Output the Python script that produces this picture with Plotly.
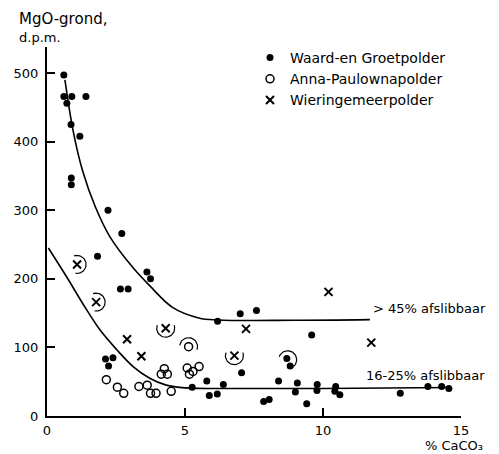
import numpy as np
import plotly.graph_objects as go

# ---- data ----
waard_x = [0.61, 0.61, 0.90, 1.41, 0.72, 0.87, 1.19, 0.88, 0.88, 2.21, 2.71, 1.83, 3.62, 3.75,
           2.66, 2.94, 2.12, 2.39, 2.23, 6.18, 7.00, 7.59, 7.05, 5.26, 5.79, 5.88, 6.17, 6.39,
           9.59, 8.69, 8.81, 8.39, 9.07, 9.00, 9.79, 9.78, 10.46, 10.43, 10.61, 7.85, 8.05,
           9.41, 12.80, 13.80, 14.30, 14.56]
waard_y = [497, 466, 466, 466, 456, 425, 408, 347, 337, 300, 266, 233, 210, 200,
           185, 185, 83, 85, 73, 138, 149, 154, 63, 42, 51, 30, 32, 46,
           118, 84, 73, 51, 48, 35, 46, 37, 43, 36, 31, 21, 24,
           18, 33, 43, 43, 40]

anna_x = [2.15, 2.55, 2.78, 3.33, 3.63, 3.75, 3.95, 4.50, 4.14, 4.36, 4.25, 5.08, 5.16, 5.29, 5.51, 5.13]
anna_y = [53, 42, 33, 43, 45, 33, 33, 36, 61, 61, 69, 70, 61, 65, 72, 101]

wier_x = [1.09, 1.78, 2.90, 3.42, 4.30, 7.21, 6.79, 10.20, 11.75]
wier_y = [221, 166, 112, 87, 128, 127, 88, 181, 107]

upper_x = [0.65, 0.95, 1.30, 1.75, 2.27, 3.12, 3.72, 4.56, 5.50, 6.20, 9.00, 11.70]
upper_y = [490, 415, 356, 305, 262, 216, 190, 158, 143, 140, 139.5, 140.5]

lower_x = [0.05, 0.71, 1.31, 1.91, 2.52, 3.12, 3.72, 4.32, 5.00, 7.00, 10.00, 14.60]
lower_y = [245, 203, 163, 126, 97, 72, 55, 45, 41, 40, 40, 41.5]

# bracketed points (x, y, arc start deg, arc end deg)
bracket_x = [1.09, 1.78, 4.30, 5.13, 6.79, 8.72]
bracket_y = [221, 166, 128, 101, 88, 82]
bracket_a0 = [-100, -100, 160, -20, 160, -60]
bracket_a1 = [110, 110, 380, 170, 380, 160]

x_ticks = [0, 5, 10, 15]
y_ticks = [0, 100, 200, 300, 400, 500]

# ---- layout geometry ----
W, H = 499, 454
ML, MR, MT, MB = 47, 38, 47, 38
XMAX, YMAX = 15, 538
pw, ph = W - ML - MR, H - MT - MB
ppx, ppy = pw / XMAX, ph / YMAX

FONT = "DejaVu Sans"
fig = go.Figure()

for cx, cy in ((upper_x, upper_y), (lower_x, lower_y)):
    fig.add_trace(go.Scatter(x=cx, y=cy, mode="lines",
                             line=dict(color="black", width=1.6, shape="spline", smoothing=1.0),
                             showlegend=False, hoverinfo="skip"))

# arcs around bracketed points (radius in pixels)
r = 9
for bx, by, a0, a1 in zip(bracket_x, bracket_y, bracket_a0, bracket_a1):
    t = np.radians(np.linspace(a0, a1, 30))
    fig.add_trace(go.Scatter(x=bx + r * np.cos(t) / ppx, y=by + r * np.sin(t) / ppy, mode="lines",
                             line=dict(color="black", width=1.2), showlegend=False, hoverinfo="skip"))

fig.add_trace(go.Scatter(x=waard_x, y=waard_y, mode="markers", name="Waard-en Groetpolder",
                         marker=dict(symbol="circle", size=7, color="black")))
fig.add_trace(go.Scatter(x=anna_x, y=anna_y, mode="markers", name="Anna-Paulownapolder",
                         marker=dict(symbol="circle-open", size=8, color="black", line=dict(width=1.5))))
fig.add_trace(go.Scatter(x=wier_x, y=wier_y, mode="markers", name="Wieringemeerpolder",
                         marker=dict(symbol="x-thin-open", size=8, color="black", line=dict(width=2, color="black"))))

def px_x(p):
    return (p - ML) / pw

def px_y(p):
    return (H - MB - p) / ph

ann = [
    dict(text="MgO-grond,", x=px_x(17), y=px_y(19), xanchor="left", size=15),
    dict(text="d.p.m.", x=px_x(17), y=px_y(37), xanchor="left", size=13),
    dict(text="> 45% afslibbaar", x=px_x(371), y=px_y(308), xanchor="left", size=13),
    dict(text="16-25% afslibbaar", x=px_x(364), y=px_y(375), xanchor="left", size=13),
    dict(text="% CaCO₃", x=px_x(485), y=px_y(445), xanchor="right", size=13),
]
annotations = [dict(text=a["text"], x=a["x"], y=a["y"], xref="paper", yref="paper", xanchor=a["xanchor"],
                    yanchor="middle", showarrow=False, font=dict(family=FONT, size=a["size"], color="black"))
               for a in ann]

fig.update_layout(
    width=W, height=H, margin=dict(l=ML, r=MR, t=MT, b=MB),
    paper_bgcolor="white", plot_bgcolor="white",
    font=dict(family=FONT, size=13, color="black"),
    annotations=annotations,
    legend=dict(x=px_x(250), y=px_y(42), xanchor="left", yanchor="top", bgcolor="rgba(0,0,0,0)",
                font=dict(family=FONT, size=14), itemwidth=30, tracegroupgap=0),
    xaxis=dict(range=[0, XMAX], tickvals=x_ticks, ticks="inside", ticklen=8, tickwidth=1.5, tickcolor="black",
               showline=True, linecolor="black", linewidth=1.5, showgrid=False, zeroline=False,
               ticklabelstandoff=2, tickfont=dict(size=13)),
    yaxis=dict(range=[0, YMAX], tickvals=y_ticks, ticks="inside", ticklen=8, tickwidth=1.5, tickcolor="black",
               showline=True, linecolor="black", linewidth=2, showgrid=False, zeroline=False,
               ticklabelstandoff=4, tickfont=dict(size=13)),
)

fig.write_html("out.html")
